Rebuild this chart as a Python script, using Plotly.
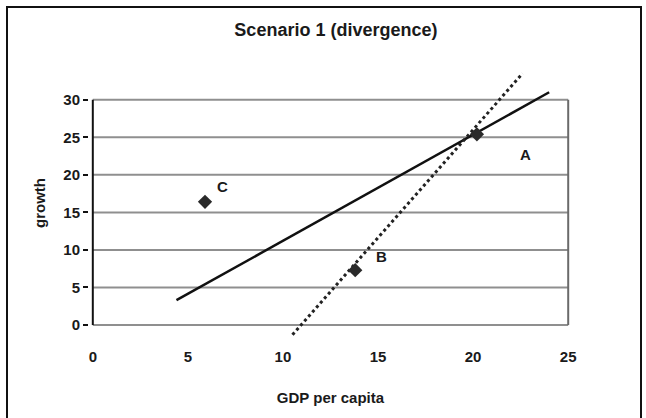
import plotly.graph_objects as go

# Data
country_labels = ["A", "B", "C"]
gdp_per_capita = [20.2, 13.8, 5.9]
growth = [25.4, 7.3, 16.4]

# Fitted relationships (end points of each line)
solid_x = [4.4, 24.0]
solid_y = [3.3, 31.0]
dotted_x = [10.5, 22.6]
dotted_y = [-1.3, 33.5]

x_ticks = [0, 5, 10, 15, 20, 25]
y_ticks = [0, 5, 10, 15, 20, 25, 30]

W, H = 646, 418
L, R, T, B = 89, 74, 66, 78
PW, PH = W - L - R, H - T - B


def px_to_paper(px, py):
    return (px - L) / PW, (H - B - py) / PH


FONT = "Liberation Sans, Arial, sans-serif"
INK = "#1a1a1a"
GRID = "#8f8f8f"


def bold(items):
    return [f"<b>{i}</b>" for i in items]


fig = go.Figure()

fig.add_trace(go.Scatter(
    x=solid_x, y=solid_y, mode="lines",
    line=dict(color="#111111", width=2.5), showlegend=False, hoverinfo="skip"))
fig.add_trace(go.Scatter(
    x=dotted_x, y=dotted_y, mode="lines",
    line=dict(color="#222222", width=3, dash="dot"), showlegend=False, hoverinfo="skip"))
fig.add_trace(go.Scatter(
    x=gdp_per_capita, y=growth, mode="markers",
    marker=dict(symbol="diamond", size=11, color="#2a2a2a"),
    showlegend=False, hoverinfo="skip"))

# Point labels offset from the markers
offsets = {"A": (49, -20), "B": (26, 14), "C": (17, 15)}
for lab, gx, gy in zip(country_labels, gdp_per_capita, growth):
    dx, dy = offsets[lab]
    fig.add_annotation(x=gx, y=gy, text=f"<b>{lab}</b>", showarrow=False,
                       xshift=dx, yshift=dy,
                       font=dict(family=FONT, size=15, color=INK))

shapes = []
# Horizontal gridlines within the value range
for v in y_ticks:
    shapes.append(dict(type="line", xref="x", yref="y", x0=0, x1=25, y0=v, y1=v,
                       line=dict(color=GRID, width=2), layer="below"))
# Right border of the plot box
shapes.append(dict(type="line", xref="x", yref="y", x0=25, x1=25, y0=0, y1=30,
                   line=dict(color="#6a6a6a", width=2), layer="below"))
# Value axis line
shapes.append(dict(type="line", xref="x", yref="y", x0=0, x1=0, y0=0, y1=30,
                   line=dict(color="#111111", width=2)))
# Outer chart frame
fx0, fy0 = px_to_paper(7, 420)
fx1, fy1 = px_to_paper(641, 7)
shapes.append(dict(type="rect", xref="paper", yref="paper", x0=fx0, y0=fy0, x1=fx1, y1=fy1,
                   line=dict(color="#111111", width=2)))

fig.update_layout(
    width=W, height=H,
    margin=dict(l=L, r=R, t=T, b=B),
    paper_bgcolor="white", plot_bgcolor="white",
    shapes=shapes,
    title=dict(text="<b>Scenario 1 (divergence)</b>", x=0.52, xanchor="center",
               y=1 - 30 / H, yanchor="middle",
               font=dict(family=FONT, size=18, color=INK)),
    xaxis=dict(range=[-0.2, 25.2], tickvals=x_ticks, ticktext=bold(x_ticks),
               showgrid=False, zeroline=False,
               showline=False, ticks="", ticklabelstandoff=6,
               tickfont=dict(family=FONT, size=15, color=INK),
               title=dict(text="<b>GDP per capita</b>", standoff=28,
                          font=dict(family=FONT, size=15, color=INK))),
    yaxis=dict(range=[-2, 34.5], tickvals=y_ticks, ticktext=bold(y_ticks),
               showgrid=False, zeroline=False,
               showline=False, ticks="outside", ticklen=5, tickcolor="#111111",
               tickwidth=1.5, tickfont=dict(family=FONT, size=15, color=INK),
               title=dict(text="<b>growth</b>", standoff=14,
                          font=dict(family=FONT, size=15, color=INK))),
)

fig.write_html("out.html")
